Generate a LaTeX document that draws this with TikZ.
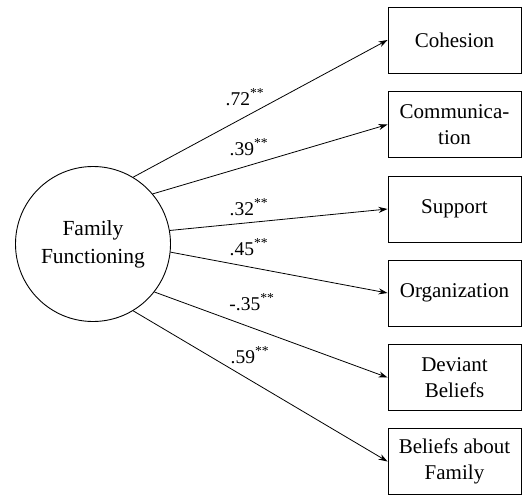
\documentclass[tikz,border=0pt]{standalone}
\usepackage{fontspec}
\setmainfont{Liberation Serif}
\usetikzlibrary{arrows.meta}
\begin{document}
\begin{tikzpicture}[x=1pt,y=-1pt,
  box/.style={draw,line width=0.9pt,minimum width=133pt,minimum height=66pt,align=center,inner sep=0pt,font=\fontsize{21}{26}\selectfont},
  latent/.style={draw,circle,line width=0.9pt,minimum size=155pt,align=center,inner sep=0pt,font=\fontsize{21.5}{28}\selectfont},
  link/.style={line width=0.8pt,-{Stealth[length=9pt,width=6pt]}},
  lab/.style={inner sep=0pt,font=\fontsize{19.5}{22}\selectfont}]
\useasboundingbox (0,0) rectangle (523,496);
\node[latent] (ff) at (93,244) {Family\\Functioning};
\node[box] (b1) at (454.5,40) {Cohesion};
\node[box] (b2) at (454.5,124.5) {Communica-\\tion};
\node[box] (b3) at (454.5,209) {Support};
\node[box] (b4) at (454.5,293) {Organization};
\node[box] (b5) at (454.5,377.5) {Deviant\\Beliefs};
\node[box] (b6) at (454.5,461.5) {Beliefs about\\Family};
\draw[link] (ff.59) -- (b1.west);
\draw[link] (ff.40) -- (b2.west);
\draw[link] (ff.10) -- (b3.west);
\draw[link] (ff.-6) -- (b4.west);
\draw[link] (ff.-38) -- (b5.west);
\draw[link] (ff.-59) -- (b6.west);
\node[lab] (l1) at (245,97) {.72\textsuperscript{**}};
\node[lab] (l2) at (249,147) {.39\textsuperscript{**}};
\node[lab] (l3) at (249,207) {.32\textsuperscript{**}};
\node[lab] (l4) at (249,247) {.45\textsuperscript{**}};
\node[lab] (l5) at (252,302) {-.35\textsuperscript{**}};
\node[lab] (l6) at (250,355) {.59\textsuperscript{**}};
\end{tikzpicture}
\end{document}
